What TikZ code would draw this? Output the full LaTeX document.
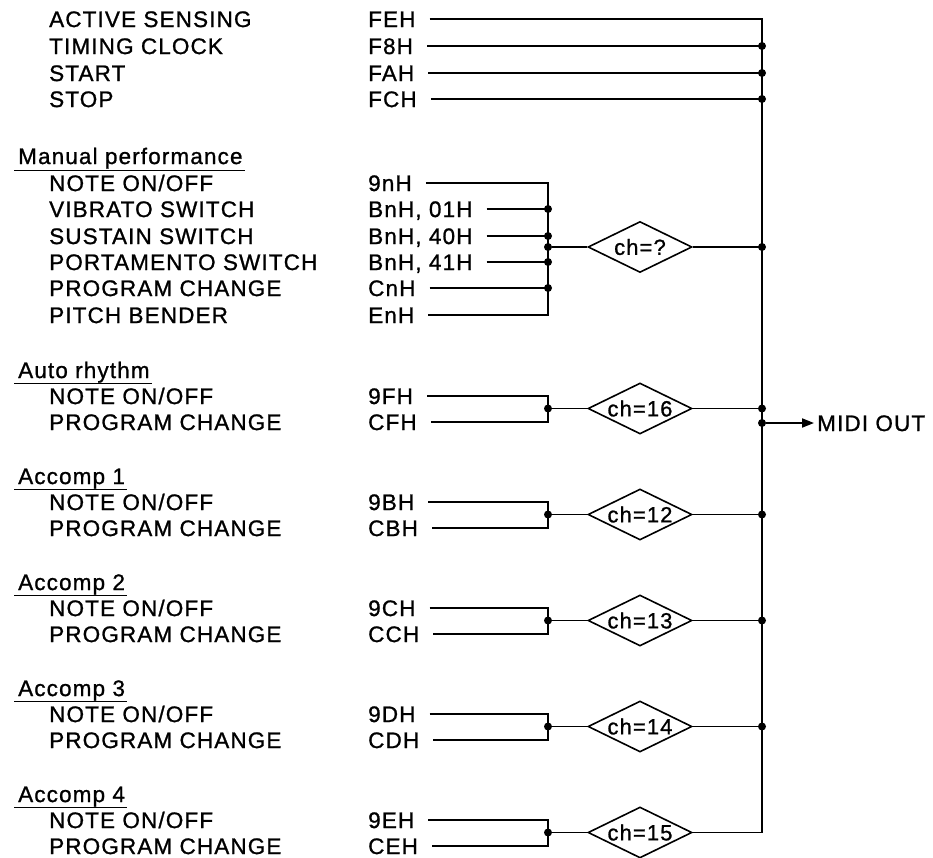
\documentclass[tikz,border=0pt]{standalone}
\usepackage{fontspec}
\setmainfont{Liberation Sans}
\newfontfamily\midifont[LetterSpace=5,FakeBold=1]{Liberation Sans}
\usepackage{tikz}
\usetikzlibrary{arrows.meta,positioning,shapes.geometric}

\tikzset{
  midilabel/.style={font=\midifont\fontsize{22.5}{24}\selectfont,
    inner sep=0pt, text height=16.1pt, text depth=0pt, anchor=west},
  chanbox/.style={diamond, draw, line width=1.6pt, inner sep=0pt,
    minimum width=104pt, minimum height=51pt},
  chantext/.style={inner sep=0pt, font=\midifont\fontsize{22}{24}\selectfont},
  wire/.style={line width=1.8pt},
  joint/.style={circle, fill, inner sep=0pt, minimum size=8pt}
}

\begin{document}
\begin{tikzpicture}[x=1pt, y=-1pt]
        \useasboundingbox (0,0) rectangle (933,858);
        \coordinate (busx) at (762,0);
        \coordinate (mrgx) at (548,0);
        % System messages
        \foreach \name/\code/\yy [count=\i] in
          {ACTIVE SENSING/FEH/19, TIMING CLOCK/F8H/46, START/FAH/73, STOP/FCH/99}{
          \node[midilabel] (sys\i) at (49,\yy) {\name};
          \node[midilabel] (sysc\i) at (368,\yy) {\code};
        }
        \foreach \i in {2,3,4}
          \draw[wire] ([xshift=14pt]sysc\i.east) -- (sysc\i -| busx) node[joint]{};
        % Manual performance
        \node[midilabel] (man) at (18,156) {Manual performance};
        \draw[line width=1.3pt] ([xshift=-4pt,yshift=-6pt]man.south west)
          -- ([xshift=2pt,yshift=-6pt]man.south east);
        \foreach \name/\code/\yy [count=\i] in
          {{NOTE ON/OFF}/9nH/183, VIBRATO SWITCH/{BnH, 01H}/209,
           SUSTAIN SWITCH/{BnH, 40H}/236, PORTAMENTO SWITCH/{BnH, 41H}/262,
           PROGRAM CHANGE/CnH/288, PITCH BENDER/EnH/315}{
          \node[midilabel] (man\i) at (49,\yy) {\name};
          \node[midilabel] (manc\i) at (368,\yy) {\code};
        }
        \draw[wire] ([xshift=14pt]manc1.east) -- (manc1 -| mrgx)
          -- (manc6 -| mrgx) -- ([xshift=14pt]manc6.east);
        \foreach \i in {2,...,5}
          \draw[wire] ([xshift=14pt]manc\i.east) -- (manc\i -| mrgx) node[joint]{};
        \node[joint] (manj) at (548,247) {};
        \node[chanbox] (chq) at (640,247) {};
        \node[chantext] (chqt) at (chq) {ch=?};
        \draw[wire] (manj) -- (chq);
        \draw[wire] (chq) -- (chq -| busx) node[joint]{};
        % Auto rhythm and accompaniment parts
        \foreach \head/\ch/\hx [count=\k from 0] in
          {Auto rhythm/16/F, Accomp 1/12/B, Accomp 2/13/C, Accomp 3/14/D, Accomp 4/15/E}{
          \pgfmathsetmacro\ya{396+106*\k}
          \node[midilabel] (hd\k) at (18,\ya-26) {\head};
          \draw[line width=1.3pt] ([xshift=-4pt,yshift=-5pt]hd\k.south west)
            -- ([xshift=2pt,yshift=-5pt]hd\k.south east);
          \node[midilabel] (nt\k) at (49,\ya) {NOTE ON/OFF};
          \node[midilabel] (pc\k) at (49,\ya+26) {PROGRAM CHANGE};
          \node[midilabel] (ntc\k) at (368,\ya) {9\hx H};
          \node[midilabel] (pcc\k) at (368,\ya+26) {C\hx H};
          \draw[wire] ([xshift=14pt]ntc\k.east) -- (ntc\k -| mrgx)
            -- (pcc\k -| mrgx) -- ([xshift=14pt]pcc\k.east);
          \node[joint] (jn\k) at (548,\ya+12.5) {};
          \node[chanbox] (ch\k) at (640,\ya+12.5) {};
          \node[chantext] (cht\k) at (ch\k) {ch=\ch};
          \draw[wire] (jn\k) -- (ch\k);
          \ifnum\k<4
            \draw[wire] (ch\k) -- (ch\k -| busx) node[joint]{};
          \fi
        }
        % Bus to MIDI OUT
        \draw[wire] ([xshift=14pt]sysc1.east) -- (sysc1 -| busx)
          -- (ch4 -| busx) -- (ch4);
        \node[joint] (outj) at (762,423) {};
        \node[midilabel] (midi) at (817,423) {MIDI OUT};
        \draw[wire, -{Triangle[length=12pt,width=9pt]}, shorten >=3pt]
          (outj) -- (midi);
      \end{tikzpicture}
\end{document}
